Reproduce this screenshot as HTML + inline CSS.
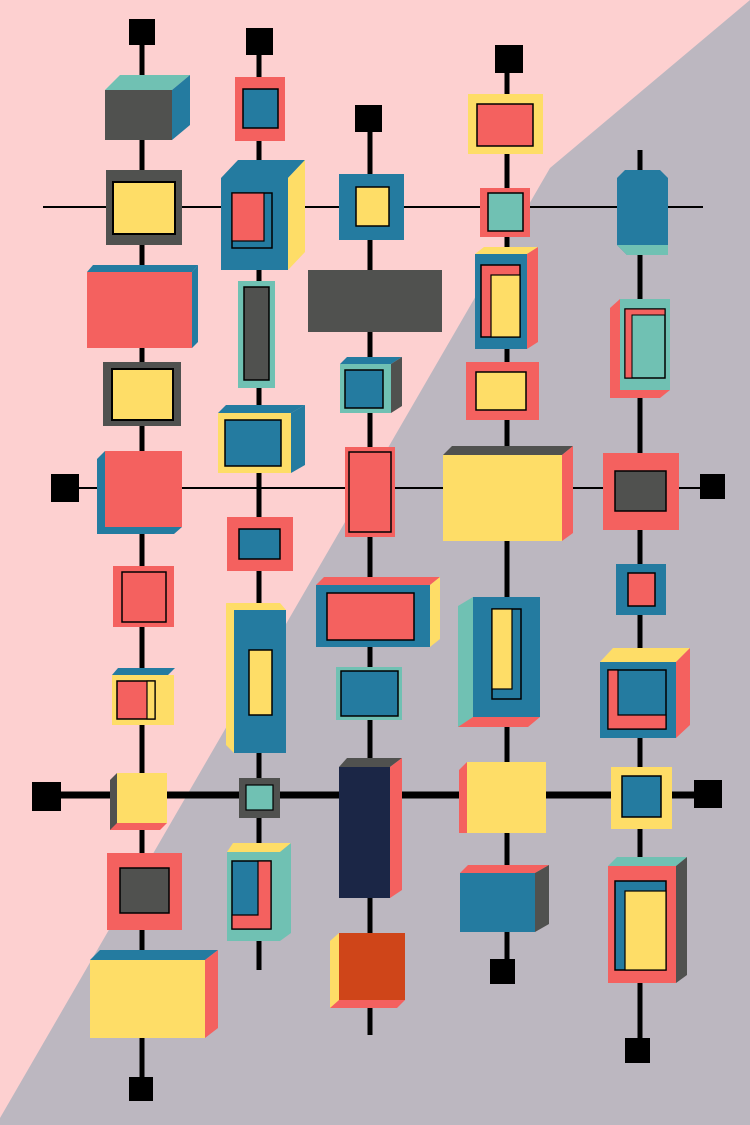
<!DOCTYPE html>
<html><head><meta charset="utf-8"><style>html,body{margin:0;padding:0;background:#fdd0d0}svg{display:block}</style></head>
<body>
<svg width="750" height="1125" viewBox="0 0 750 1125" xmlns="http://www.w3.org/2000/svg">
<g stroke="none">
<rect width="750" height="1125" fill="#fdd0d0"/>
<polygon points="0,1118 550,168 750,0 750,1125 0,1125" fill="#bcb7c0"/>
</g>
<g stroke="#000">
<line x1="43" y1="207" x2="703" y2="207" stroke-width="2"/>
<line x1="60" y1="488" x2="712" y2="488" stroke-width="2"/>
<line x1="45" y1="795" x2="708" y2="795" stroke-width="7"/>
<line x1="142" y1="32" x2="142" y2="1090" stroke-width="5"/>
<line x1="259" y1="40" x2="259" y2="970" stroke-width="5"/>
<line x1="370" y1="118" x2="370" y2="1035" stroke-width="5"/>
<line x1="507" y1="60" x2="507" y2="970" stroke-width="5"/>
<line x1="640" y1="150" x2="640" y2="1050" stroke-width="5"/>
</g>
<g fill="#000">
<rect x="129" y="19" width="26" height="26"/><rect x="246" y="28" width="27" height="27"/>
<rect x="355" y="105" width="27" height="27"/><rect x="495" y="45" width="28" height="28"/>
<rect x="51" y="474" width="28" height="28"/><rect x="700" y="474" width="25" height="25"/>
<rect x="32" y="782" width="29" height="29"/><rect x="694" y="780" width="28" height="28"/>
<rect x="129" y="1077" width="24" height="24"/><rect x="490" y="959" width="25" height="25"/>
<rect x="625" y="1038" width="25" height="25"/>
</g>
<g stroke="none">
<polygon points="105,90 120,75 190,75 172,90" fill="#70c1b3"/><polygon points="172,90 190,75 190,125 172,140" fill="#247ba0"/>
<rect x="105" y="90" width="67" height="50" fill="#50514f"/>
<rect x="106" y="170" width="76" height="75" fill="#50514f"/><rect x="113" y="182" width="62" height="52" fill="#fedd67" stroke="#000" stroke-width="2"/>
<polygon points="87,272 93,265 198,265 192,272" fill="#247ba0"/><polygon points="192,272 198,265 198,342 192,348" fill="#247ba0"/>
<rect x="87" y="272" width="105" height="76" fill="#f4615f"/>
<rect x="103" y="362" width="78" height="64" fill="#50514f"/><rect x="112" y="369" width="61" height="51" fill="#fedd67" stroke="#000" stroke-width="2"/>
<polygon points="97,459 105,451 105,527 182,527 174,534 97,534" fill="#247ba0"/><rect x="105" y="451" width="77" height="76" fill="#f4615f"/>
<rect x="113" y="566" width="61" height="61" fill="#f4615f"/><rect x="122" y="572" width="44" height="50" fill="#f4615f" stroke="#000" stroke-width="1.5"/>
<polygon points="112,675 118,668 175,668 168,675" fill="#247ba0"/><rect x="112" y="675" width="62" height="50" fill="#fedd67"/>
<rect x="117" y="681" width="38" height="38" fill="#f4615f" stroke="#000" stroke-width="1.5"/><polygon points="147,681 155,681 155,719 147,719" fill="#fedd67" stroke="#000" stroke-width="1.2"/>
<polygon points="110,780 117,773 117,830 110,830" fill="#50514f"/><polygon points="110,830 117,823 167,823 160,830" fill="#f4615f"/>
<rect x="117" y="773" width="50" height="50" fill="#fedd67"/>
<rect x="107" y="853" width="75" height="77" fill="#f4615f"/><rect x="120" y="868" width="49" height="45" fill="#50514f" stroke="#000" stroke-width="1.5"/>
<polygon points="90,960 100,950 218,950 205,960" fill="#247ba0"/><polygon points="205,960 218,950 218,1028 205,1038" fill="#f4615f"/>
<rect x="90" y="960" width="115" height="78" fill="#fedd67"/>
</g>
<g stroke="none">
<rect x="235" y="77" width="50" height="64" fill="#f4615f"/><rect x="243" y="89" width="35" height="39" fill="#247ba0" stroke="#000" stroke-width="1.5"/>
<polygon points="238,160 305,160 288,178 221,178" fill="#247ba0"/><polygon points="288,178 305,160 305,252 288,270" fill="#fedd67"/>
<rect x="221" y="178" width="67" height="92" fill="#247ba0"/>
<rect x="232" y="193" width="40" height="55" fill="#247ba0" stroke="#000" stroke-width="1.5"/><rect x="232" y="193" width="32" height="48" fill="#f4615f" stroke="#000" stroke-width="1.2"/>
<rect x="238" y="281" width="37" height="107" fill="#70c1b3"/><rect x="244" y="287" width="25" height="93" fill="#50514f" stroke="#000" stroke-width="1.5"/>
<polygon points="218,413 226,405 305,405 291,413" fill="#247ba0"/><polygon points="291,413 305,405 305,465 291,473" fill="#247ba0"/>
<rect x="218" y="413" width="73" height="60" fill="#fedd67"/><rect x="225" y="420" width="56" height="46" fill="#247ba0" stroke="#000" stroke-width="1.5"/>
<rect x="227" y="517" width="66" height="54" fill="#f4615f"/><rect x="239" y="529" width="41" height="30" fill="#247ba0" stroke="#000" stroke-width="1.5"/>
<polygon points="226,603 280,603 286,610 234,610" fill="#fedd67"/><polygon points="226,603 234,610 234,753 226,745" fill="#fedd67"/>
<rect x="234" y="610" width="52" height="143" fill="#247ba0"/><rect x="249" y="650" width="23" height="65" fill="#fedd67" stroke="#000" stroke-width="1.5"/>
<rect x="239" y="778" width="41" height="40" fill="#50514f"/><rect x="246" y="785" width="27" height="25" fill="#70c1b3" stroke="#000" stroke-width="1.2"/>
<polygon points="227,852 233,843 291,843 280,852" fill="#fedd67"/><polygon points="280,852 291,843 291,933 280,941" fill="#70c1b3"/>
<rect x="227" y="852" width="53" height="89" fill="#70c1b3"/>
<rect x="232" y="861" width="39" height="68" fill="#247ba0" stroke="#000" stroke-width="1.5"/><polygon points="258,861 271,861 271,929 232,929 232,915 258,915" fill="#f4615f" stroke="#000" stroke-width="1.2"/>
</g>
<g stroke="none">
<rect x="339" y="174" width="65" height="66" fill="#247ba0"/><rect x="356" y="187" width="33" height="39" fill="#fedd67" stroke="#000" stroke-width="1.5"/>
<rect x="308" y="270" width="134" height="62" fill="#50514f"/>
<polygon points="340,364 347,357 402,357 391,364" fill="#247ba0"/><polygon points="391,364 402,357 402,406 391,413" fill="#50514f"/>
<rect x="340" y="364" width="51" height="49" fill="#70c1b3"/><rect x="345" y="370" width="38" height="38" fill="#247ba0" stroke="#000" stroke-width="1.5"/>
<rect x="345" y="447" width="50" height="90" fill="#f4615f"/><rect x="349" y="452" width="42" height="80" fill="#f4615f" stroke="#000" stroke-width="1.5"/>
<polygon points="316,585 324,577 440,577 430,585" fill="#f4615f"/><polygon points="430,585 440,577 440,639 430,647" fill="#fedd67"/>
<rect x="316" y="585" width="114" height="62" fill="#247ba0"/><rect x="327" y="593" width="87" height="47" fill="#f4615f" stroke="#000" stroke-width="1.5"/>
<rect x="336" y="667" width="66" height="53" fill="#70c1b3"/><rect x="341" y="671" width="57" height="45" fill="#247ba0" stroke="#000" stroke-width="1.5"/>
<polygon points="339,767 347,758 402,758 390,767" fill="#50514f"/><polygon points="390,767 402,758 402,890 390,898" fill="#f4615f"/>
<rect x="339" y="767" width="51" height="131" fill="#1b2646"/>
<polygon points="330,941 339,933 339,1008 330,1008" fill="#fedd67"/><polygon points="330,1008 339,1000 405,1000 397,1008" fill="#f4615f"/>
<rect x="339" y="933" width="66" height="67" fill="#cf4519"/>
</g>
<g stroke="none">
<rect x="468" y="94" width="75" height="60" fill="#fedd67"/><rect x="477" y="104" width="56" height="42" fill="#f4615f" stroke="#000" stroke-width="1.5"/>
<rect x="480" y="188" width="50" height="49" fill="#f4615f"/><rect x="488" y="193" width="35" height="38" fill="#70c1b3" stroke="#000" stroke-width="1.5"/>
<polygon points="475,254 484,247 538,247 527,254" fill="#fedd67"/><polygon points="527,254 538,247 538,342 527,349" fill="#f4615f"/>
<rect x="475" y="254" width="52" height="95" fill="#247ba0"/>
<rect x="481" y="265" width="39" height="72" fill="#f4615f" stroke="#000" stroke-width="1.5"/><rect x="491" y="275" width="29" height="62" fill="#fedd67" stroke="#000" stroke-width="1.2"/>
<rect x="466" y="362" width="73" height="58" fill="#f4615f"/><rect x="476" y="372" width="50" height="38" fill="#fedd67" stroke="#000" stroke-width="1.5"/>
<polygon points="443,455 452,446 573,446 562,455" fill="#50514f"/><polygon points="562,455 573,446 573,533 562,541" fill="#f4615f"/>
<rect x="443" y="455" width="119" height="86" fill="#fedd67"/>
<polygon points="458,606 473,597 473,727 458,727" fill="#70c1b3"/><polygon points="458,727 473,717 540,717 528,727" fill="#f4615f"/>
<rect x="473" y="597" width="67" height="120" fill="#247ba0"/>
<rect x="492" y="609" width="29" height="90" fill="#247ba0" stroke="#000" stroke-width="1.5"/><rect x="492" y="609" width="20" height="80" fill="#fedd67" stroke="#000" stroke-width="1.2"/>
<polygon points="459,770 467,762 467,833 459,833" fill="#f4615f"/><rect x="467" y="762" width="79" height="71" fill="#fedd67"/>
<polygon points="460,873 468,865 549,865 535,873" fill="#f4615f"/><polygon points="535,873 549,865 549,924 535,932" fill="#50514f"/>
<rect x="460" y="873" width="75" height="59" fill="#247ba0"/>
</g>
<g stroke="none">
<polygon points="617,178 625,170 660,170 668,178 668,255 627,255 617,245" fill="#247ba0"/><polygon points="617,245 668,245 668,255 627,255" fill="#70c1b3"/>
<polygon points="610,308 620,299 620,390 670,390 660,398 610,398" fill="#f4615f"/>
<rect x="620" y="299" width="50" height="91" fill="#70c1b3"/><rect x="625" y="309" width="40" height="69" fill="#70c1b3" stroke="#000" stroke-width="1.5"/>
<polygon points="625,309 665,309 665,315 632,315 632,378 625,378" fill="#f4615f" stroke="#000" stroke-width="1"/>
<rect x="603" y="453" width="76" height="77" fill="#f4615f"/><rect x="615" y="471" width="51" height="40" fill="#50514f" stroke="#000" stroke-width="1.5"/>
<rect x="616" y="564" width="50" height="51" fill="#247ba0"/><rect x="628" y="573" width="27" height="33" fill="#f4615f" stroke="#000" stroke-width="1.5"/>
<polygon points="600,662 613,648 690,648 676,662" fill="#fedd67"/><polygon points="676,662 690,648 690,725 676,738" fill="#f4615f"/>
<rect x="600" y="662" width="76" height="76" fill="#247ba0"/>
<rect x="608" y="670" width="58" height="59" fill="#247ba0" stroke="#000" stroke-width="1.5"/><polygon points="608,670 618,670 618,715 666,715 666,729 608,729" fill="#f4615f" stroke="#000" stroke-width="1.2"/>
<rect x="611" y="767" width="61" height="62" fill="#fedd67"/><rect x="622" y="776" width="39" height="41" fill="#247ba0" stroke="#000" stroke-width="1.5"/>
<polygon points="608,866 617,857 687,857 676,866" fill="#70c1b3"/><polygon points="676,866 687,857 687,975 676,983" fill="#50514f"/>
<rect x="608" y="866" width="68" height="117" fill="#f4615f"/>
<rect x="615" y="881" width="51" height="89" fill="#247ba0" stroke="#000" stroke-width="1.5"/><rect x="625" y="891" width="41" height="79" fill="#fedd67" stroke="#000" stroke-width="1.2"/>
</g>
</svg>
</body></html>
